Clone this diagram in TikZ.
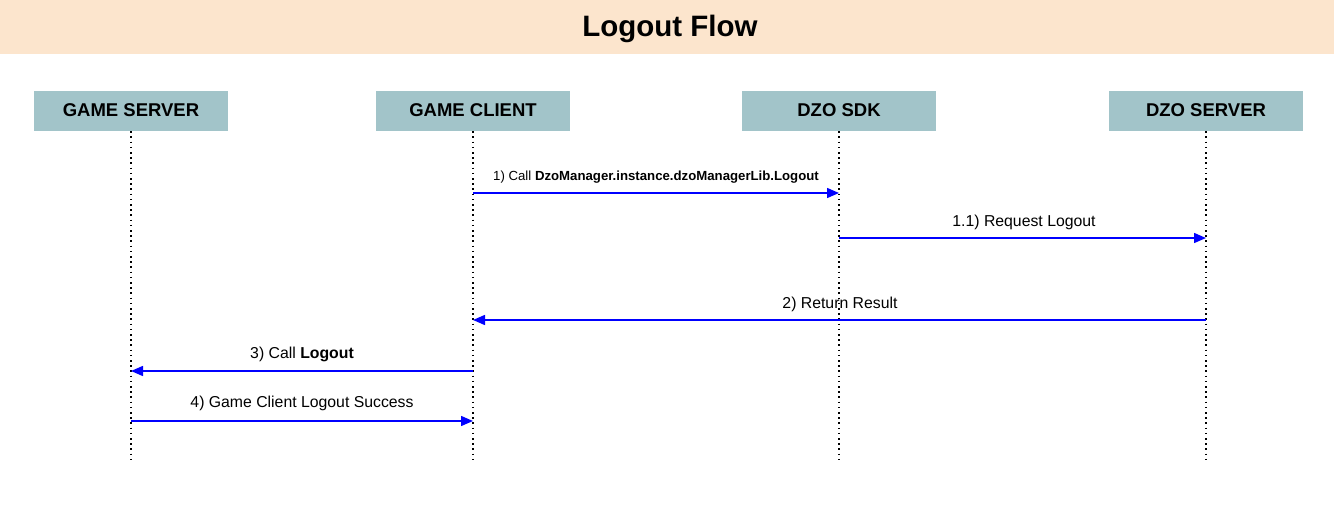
\documentclass[tikz,border=0pt]{standalone}
\usepackage{fontspec}
\setmainfont{Liberation Sans}
\usetikzlibrary{arrows.meta}
\definecolor{hdr}{HTML}{FCE5CD}
\definecolor{actor}{HTML}{A2C4C9}
\definecolor{msgblue}{HTML}{0000FF}
\begin{document}
\begin{tikzpicture}[x=1pt,y=-1pt,
  actorbox/.style={fill=actor, minimum width=194pt, minimum height=40pt, inner sep=0pt},
  actortext/.style={font=\fontsize{18.5}{22}\selectfont\bfseries, anchor=base, inner sep=0pt},
  lifeline/.style={line width=1.6pt, dash pattern=on 1.6pt off 3.6pt},
  msg/.style={msgblue, line width=1.5pt, -{Triangle[length=12pt,width=10pt]}},
  msglabel/.style={font=\fontsize{15.8}{18}\selectfont, inner sep=0pt, anchor=base}]
\useasboundingbox (0,0) rectangle (1334,511);
\fill[hdr] (0,0) rectangle (1334,54);
\node[font=\fontsize{29.5}{32}\selectfont\bfseries, anchor=base, inner sep=0pt] (title) at (670,37) {Logout Flow};
\node[actorbox] (gs) at (131,111) {};
\node[actorbox] (gc) at (473,111) {};
\node[actorbox] (sdk) at (839,111) {};
\node[actorbox] (ds) at (1206,111) {};
\node[actortext] (gst) at (131,117) {GAME SERVER};
\node[actortext] (gct) at (473,117) {GAME CLIENT};
\node[actortext] (sdkt) at (839,117) {DZO SDK};
\node[actortext] (dst) at (1206,117) {DZO SERVER};
\coordinate (gsend) at (131,463);
\coordinate (gcend) at (473,463);
\coordinate (sdkend) at (839,463);
\coordinate (dsend) at (1206,463);
\draw[lifeline] (gs.south) -- (gsend);
\draw[lifeline] (gc.south) -- (gcend);
\draw[lifeline] (sdk.south) -- (sdkend);
\draw[lifeline] (ds.south) -- (dsend);
% message anchors
\coordinate (m1a) at (473,193); \coordinate (m1b) at (839,193);
\coordinate (m2a) at (839,238); \coordinate (m2b) at (1206,238);
\coordinate (m3a) at (1206,320); \coordinate (m3b) at (473,320);
\coordinate (m4a) at (473,371); \coordinate (m4b) at (131,371);
\coordinate (m5a) at (131,421); \coordinate (m5b) at (473,421);
\draw[msg] (m1a) -- (m1b);
\draw[msg] (m2a) -- (m2b);
\draw[msg] (m3a) -- (m3b);
\draw[msg] (m4a) -- (m4b);
\draw[msg] (m5a) -- (m5b);
\node[msglabel, font=\fontsize{13.2}{15}\selectfont] (l1) at (656,180) {1) Call \textbf{DzoManager.instance.dzoManagerLib.Logout}};
\node[msglabel] (l2) at (1024,226) {1.1) Request Logout};
\node[msglabel] (l3) at (840,308) {2) Return Result};
\node[msglabel] (l4) at (302,358) {3) Call \textbf{Logout}};
\node[msglabel] (l5) at (302,407) {4) Game Client Logout Success};
\end{tikzpicture}
\end{document}
